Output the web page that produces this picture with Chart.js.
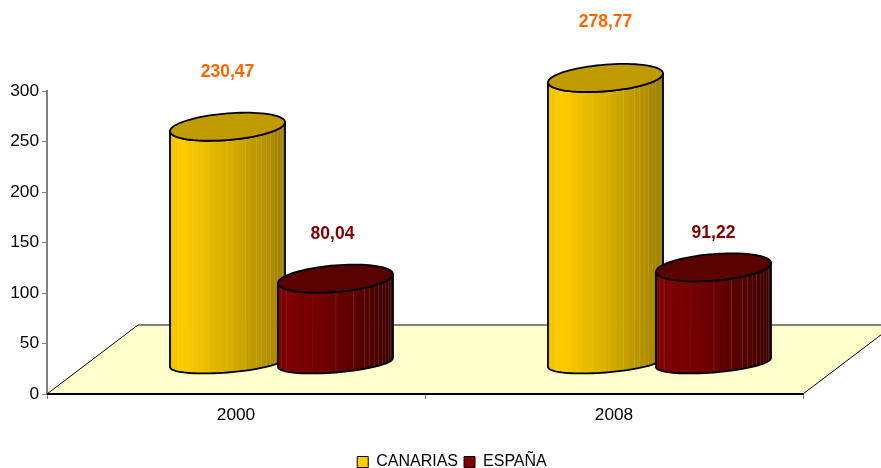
<!DOCTYPE html>
<html><head><meta charset="utf-8">
<style>html,body{margin:0;padding:0;background:#fff}canvas{display:block}</style>
<script src="https://cdn.jsdelivr.net/npm/chart.js@4"></script>
</head><body><canvas id="c" width="881" height="468"></canvas>
<script>
const categories = ['2000', '2008'];
const canarias = [230.47, 278.77];
const espana = [80.04, 91.22];
const yTicks = [0, 50, 100, 150, 200, 250, 300];

const FONT = '"Liberation Sans", Arial, sans-serif';
const DEPTH_X = 91, DEPTH_Y = 69;          // floor depth
const BASE_X = 45.5, BASE_Y = 31;          // cylinder base sits mid-floor
const H_EXTRA = 3.5, TILT = 0.078, TOP_B = 13.3, BOT_B = 10;
const palettes = [
  {stops:[[0,'#EFC000'],[.1,'#FFCC00'],[.5,'#D8B000'],[.8,'#B89400'],[1,'#9A7C00']], top:'#BF9B00', label:'#FF6600'},
  {stops:[[0,'#7A0000'],[.1,'#800000'],[.5,'#6A0000'],[.8,'#500000'],[1,'#380000']], top:'#590000', label:'#800000'}
];
const labelLift = [[89, 90.5], [79, 69]];
const labelShift = [[0, 0], [-3, 0]];

function hex(c){return [1,3,5].map(i=>parseInt(c.substr(i,2),16));}
function mix(stops,t){
  for(let i=1;i<stops.length;i++){
    if(t<=stops[i][0]){
      const u=(t-stops[i-1][0])/(stops[i][0]-stops[i-1][0]);
      const A=hex(stops[i-1][1]),B=hex(stops[i][1]);
      return 'rgb('+A.map((v,j)=>Math.round(v+(B[j]-v)*u)).join(',')+')';
    }
  }
  return stops[stops.length-1][1];
}
function ellPt(cx,cy,a,b,t){
  return [cx+a*Math.cos(t), cy-TILT*a*Math.cos(t)+b*Math.sin(t)];
}
function cylinder(ctx,cx,botY,topY,a,pal){
  const N=40;
  ctx.beginPath();
  let p=ellPt(cx,topY,a,TOP_B,Math.PI); ctx.moveTo(p[0],p[1]);
  for(let i=N;i>=0;i--){p=ellPt(cx,botY,a,BOT_B,Math.PI*i/N);ctx.lineTo(p[0],p[1]);}
  p=ellPt(cx,topY,a,TOP_B,0); ctx.lineTo(p[0],p[1]);
  for(let i=0;i<=N;i++){p=ellPt(cx,topY,a,TOP_B,Math.PI*i/N);ctx.lineTo(p[0],p[1]);}
  ctx.closePath();
  ctx.save(); ctx.clip();
  const F=30;
  for(let i=0;i<F;i++){
    const x0=cx-a*Math.cos(Math.PI*i/F), x1=cx-a*Math.cos(Math.PI*(i+1)/F);
    const t=(x0+x1)/2;
    ctx.fillStyle=mix(pal.stops,(t-(cx-a))/(2*a));
    ctx.fillRect(x0,topY-40,x1-x0+0.6,botY-topY+80);
    if(i>=20||i===3||i===5||i===15||i===18){
      ctx.fillStyle='rgba(255,255,255,0.13)';
      ctx.fillRect(x0,topY-40,0.8,botY-topY+80);
    }
  }
  ctx.restore();
  ctx.strokeStyle='#000'; ctx.lineWidth=1.8; ctx.lineJoin='round';
  ctx.stroke();
  ctx.beginPath();
  for(let i=0;i<=2*N;i++){p=ellPt(cx,topY,a,TOP_B,Math.PI*i/N); i?ctx.lineTo(p[0],p[1]):ctx.moveTo(p[0],p[1]);}
  ctx.closePath();
  ctx.fillStyle=pal.top; ctx.fill(); ctx.stroke();
}

const cylinders = {
  id:'cylinders',
  afterLayout(chart){
    const l=chart.legend; l.left=101; l.right=803; l.top=448; l.bottom=480;
  },
  beforeDatasetsDraw(chart){
    const ctx=chart.ctx, A=chart.chartArea;
    ctx.save();
    ctx.beginPath();
    ctx.moveTo(A.left,A.bottom); ctx.lineTo(A.right,A.bottom);
    ctx.lineTo(A.right+DEPTH_X,A.bottom-DEPTH_Y); ctx.lineTo(A.left+DEPTH_X,A.bottom-DEPTH_Y);
    ctx.closePath();
    ctx.fillStyle='#FFFFCC'; ctx.fill();
    ctx.strokeStyle='#000'; ctx.lineWidth=1;
    ctx.beginPath();
    ctx.moveTo(A.left,A.bottom); ctx.lineTo(A.left+DEPTH_X,A.bottom-DEPTH_Y);
    ctx.moveTo(A.right,A.bottom); ctx.lineTo(A.right+DEPTH_X,A.bottom-DEPTH_Y);
    ctx.stroke();
    ctx.strokeStyle='#808080'; ctx.lineWidth=2;
    ctx.beginPath();
    ctx.moveTo(A.left+DEPTH_X,A.bottom-DEPTH_Y); ctx.lineTo(A.right+DEPTH_X,A.bottom-DEPTH_Y);
    ctx.stroke();
    ctx.beginPath(); ctx.strokeStyle='#000';
    ctx.moveTo(A.left,A.bottom); ctx.lineTo(A.right,A.bottom); ctx.stroke();

    categories.forEach((_,i)=>{
      chart.data.datasets.forEach((ds,d)=>{
        const el=chart.getDatasetMeta(d).data[i];
        const h=(el.base-el.y)+H_EXTRA;
        const botY=el.base-BASE_Y;
        cylinder(ctx,el.x+BASE_X,botY,botY-h,el.width/2,palettes[d]);
      });
    });
    ctx.textAlign='center'; ctx.textBaseline='middle';
    ctx.font='bold 17.5px '+FONT;
    chart.data.datasets.forEach((ds,d)=>{
      chart.getDatasetMeta(d).data.forEach((el,i)=>{
        ctx.fillStyle=palettes[d].label;
        ctx.fillText(String(ds.data[i]).replace('.',','), el.x+BASE_X+labelShift[d][i], el.y-labelLift[d][i]);
      });
    });
    ctx.restore();
    return false;
  }
};

new Chart(document.getElementById('c'),{
  type:'bar',
  data:{labels:categories,datasets:[
    {label:'CANARIAS',data:canarias,backgroundColor:'#FFCC00',borderColor:'#000',borderWidth:1,categoryPercentage:0.5714,barPercentage:1.065},
    {label:'ESPAÑA',data:espana,backgroundColor:'#800000',borderColor:'#000',borderWidth:1,categoryPercentage:0.5714,barPercentage:1.065}
  ]},
  plugins:[cylinders],
  options:{
    responsive:false,animation:false,
    layout:{padding:{left:0,right:78,top:91,bottom:0}},
    plugins:{
      tooltip:{enabled:false},
      title:{display:false},
      legend:{position:'bottom',labels:{color:'#000',font:{family:FONT,size:16},boxWidth:11,boxHeight:11,padding:6}}
    },
    scales:{
      x:{
        grid:{offset:true,drawOnChartArea:false,drawTicks:true,tickLength:5,color:'#808080'},
        border:{color:'#000',width:2},
        ticks:{color:'#000',font:{family:FONT,size:17.3},padding:6,maxRotation:0},
        afterFit(s){s.height=42;}
      },
      y:{
        min:0,max:300,
        afterBuildTicks(s){s.ticks=yTicks.map(v=>({value:v}));},
        grid:{drawOnChartArea:false,tickLength:5,color:'#808080'},
        border:{color:'#808080',width:2},
        ticks:{color:'#000',font:{family:FONT,size:17.3},padding:3},
        afterFit(s){s.width=47;}
      }
    }
  }
});
</script></body></html>
